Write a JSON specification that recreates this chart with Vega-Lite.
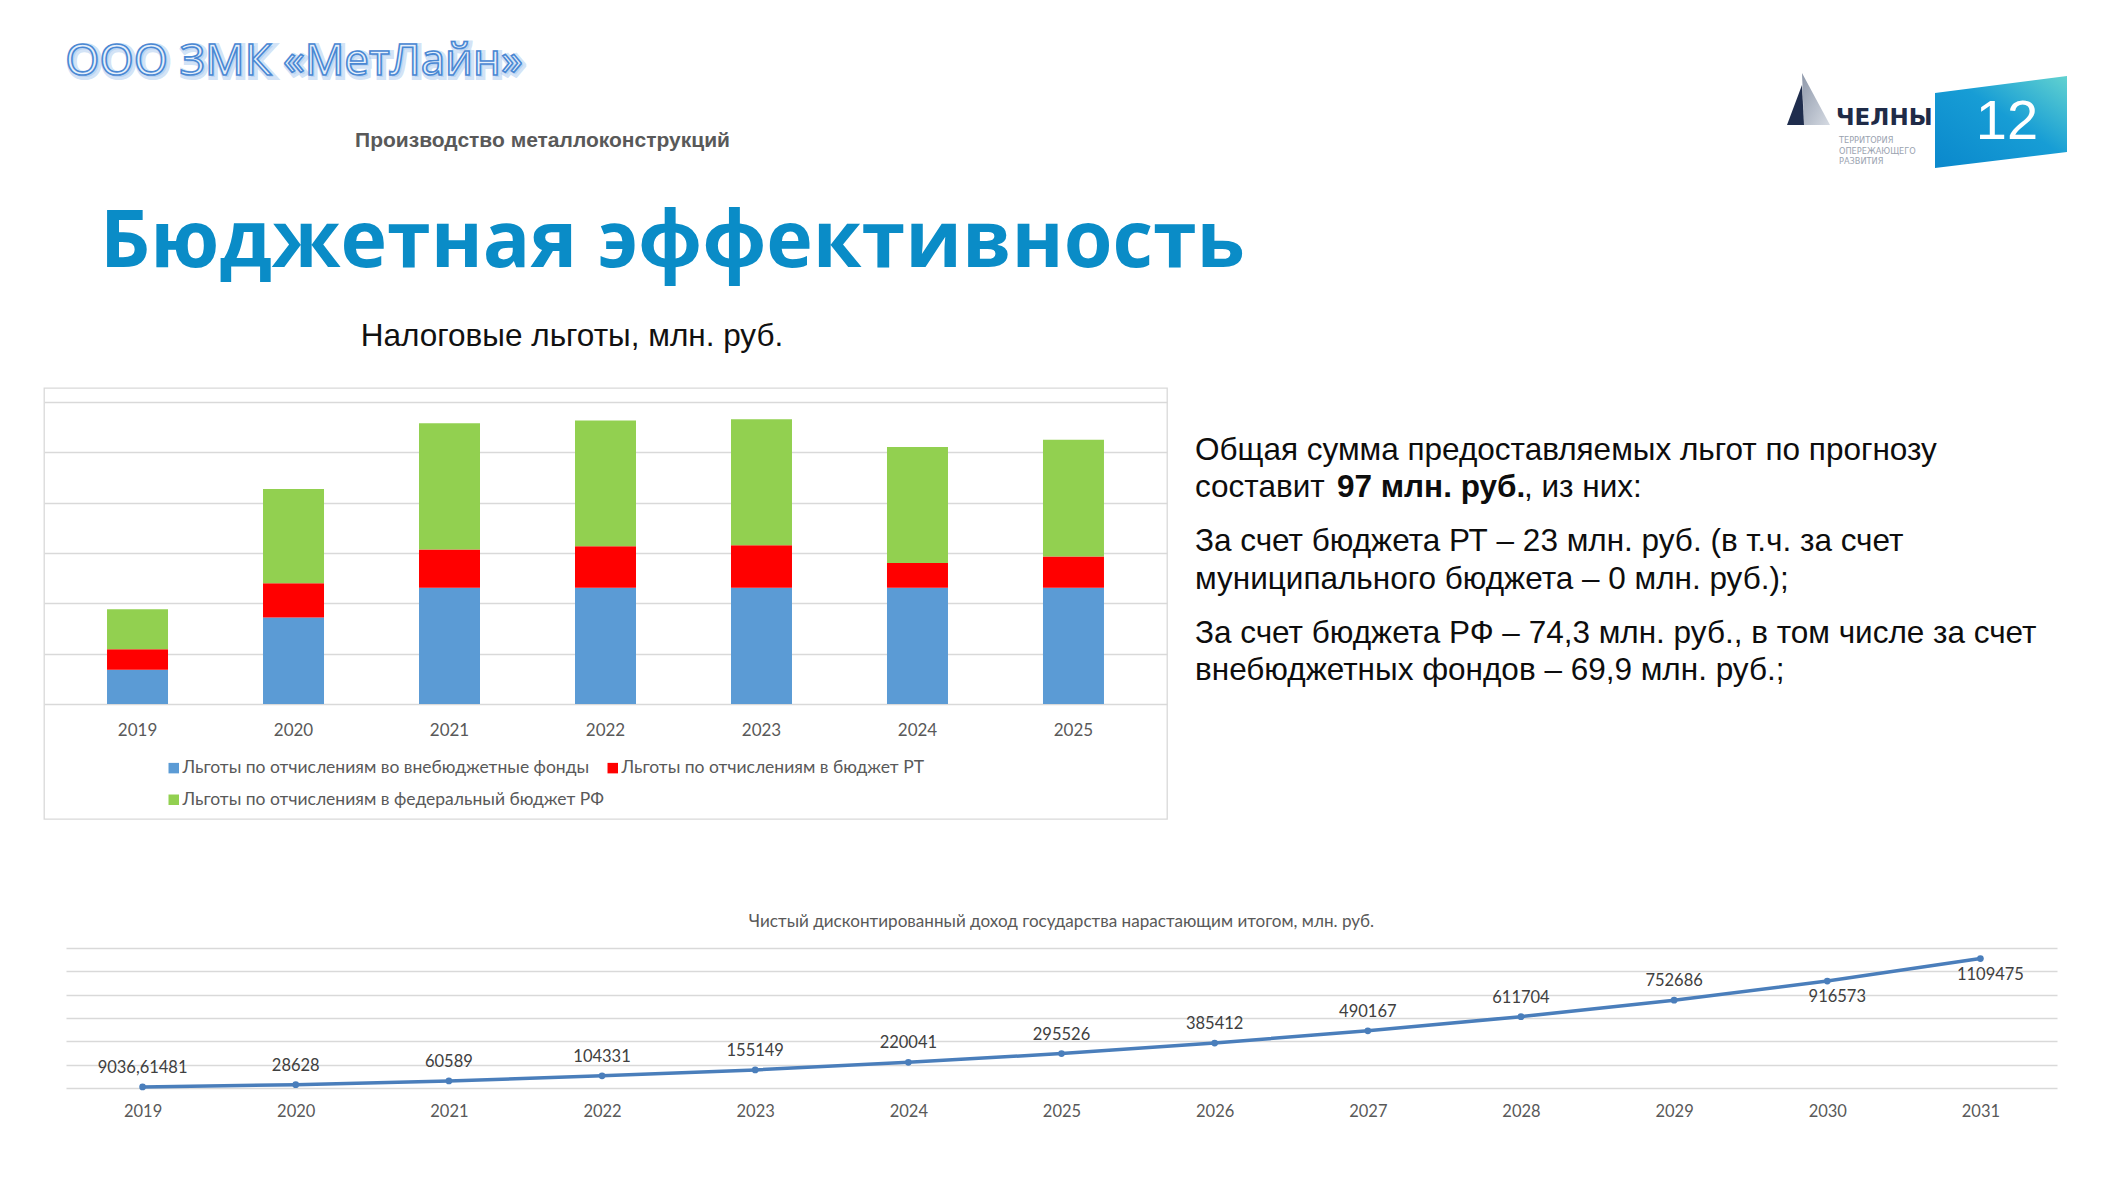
{
  "$schema": "https://vega.github.io/schema/vega-lite/v6.json",
  "background": "white",
  "padding": {"left": 43, "top": 0, "right": 0, "bottom": 0},
  "config": {
    "view": {"stroke": null},
    "font": "Lato",
    "concat": {"spacing": 0},
    "locale": {"number": {"decimal": ",", "thousands": " ", "grouping": [3], "currency": ["", ""]}}
  },
  "spacing": 0,
  "vconcat": [
    {
      "spacing": 476,
      "hconcat": [
        {
          "spacing": 0,
          "vconcat": [
            {
              "width": 500, "height": 100,
              "data": {"values": [{"t": "ООО ЗМК «МетЛайн»"}]},
              "encoding": {"text": {"field": "t"}},
              "layer": [
                {"mark": {"type": "text", "font": "Open Sans", "fontSize": 44, "align": "center", "baseline": "middle", "dy": 14, "dx": 2, "fill": "#a9c9ef", "fillOpacity": 0.5, "stroke": "#9cc0ec", "strokeWidth": 6, "strokeOpacity": 0.45}},
                {"mark": {"type": "text", "font": "Open Sans", "fontSize": 44, "align": "center", "baseline": "middle", "dy": 12, "fill": "#e6f0fb", "stroke": "#4a88d3", "strokeWidth": 1.6}}
              ]
            },
            {
              "width": 997, "height": 75,
              "data": {"values": [{"t": "Производство металлоконструкций"}]},
              "mark": {"type": "text", "font": "Liberation Sans", "fontSize": 21, "fontWeight": "bold", "fill": "#595959", "align": "center", "baseline": "middle", "dy": 3.5},
              "encoding": {"text": {"field": "t"}}
            },
            {
              "width": 1257, "height": 125,
              "data": {"values": [{"t": "Бюджетная эффективность"}]},
              "mark": {"type": "text", "font": "Open Sans", "fontSize": 78.8, "fontWeight": "bold", "fill": "#0a8cc7", "align": "center", "baseline": "alphabetic", "dy": 29.5},
              "encoding": {"text": {"field": "t"}}
            },
            {
              "width": 1056, "height": 87,
              "data": {"values": [{"t": "Налоговые льготы, млн. руб."}]},
              "mark": {"type": "text", "font": "Liberation Sans", "fontSize": 31.5, "fill": "#111111", "align": "center", "baseline": "alphabetic", "dy": 2.5},
              "encoding": {"text": {"field": "t"}}
            }
          ]
        },
        {
          "width": 300, "height": 244,
          "data": {"values": [{"a": 1}]},
          "layer": [
            {"mark": {"type": "point", "shape": "M0.08,-0.29L1.40,-0.46L1.40,0.30L0.08,0.46Z", "size": 40000, "filled": true, "opacity": 1, "strokeWidth": 0,
              "fill": {"gradient": "linear", "x1": 0, "y1": 1, "x2": 1, "y2": 0, "stops": [{"offset": 0, "color": "#0a88cc"}, {"offset": 0.55, "color": "#179dd5"}, {"offset": 1, "color": "#62d2d0"}]}}},
            {"mark": {"type": "point", "shape": "M-1.25,-0.49L-1.23,0.03L-0.97,0.03Z", "size": 40000, "filled": true, "opacity": 1, "strokeWidth": 0,
              "fill": {"gradient": "linear", "x1": 0, "y1": 0, "x2": 1, "y2": 1, "stops": [{"offset": 0, "color": "#8e98aa"}, {"offset": 1, "color": "#d6dbe3"}]}}},
            {"mark": {"type": "point", "shape": "M-1.25,-0.37L-1.40,0.03L-1.23,0.03Z", "size": 40000, "filled": true, "opacity": 1, "strokeWidth": 0, "fill": "#1f2d4d"}},
            {"mark": {"type": "text", "text": "ЧЕЛНЫ", "font": "DejaVu Sans", "fontSize": 23, "fontWeight": "bold", "fill": "#1f2b47", "align": "left", "baseline": "alphabetic", "dx": -91, "dy": 3}},
            {"mark": {"type": "text", "text": ["ТЕРРИТОРИЯ", "ОПЕРЕЖАЮЩЕГО", "РАЗВИТИЯ"], "font": "DejaVu Sans", "fontSize": 8.2, "lineHeight": 10.5, "fill": "#9aa3b0", "align": "left", "baseline": "alphabetic", "dx": -88, "dy": 21}},
            {"mark": {"type": "text", "text": "12", "font": "Liberation Sans", "fontSize": 56, "fill": "white", "align": "center", "baseline": "alphabetic", "dx": 80, "dy": 17}}
          ]
        }
      ]
    },
    {
      "spacing": 27,
      "hconcat": [
        {
          "width": 1123, "height": 431,
          "view": {"stroke": "#d9d9d9", "strokeWidth": 1.3},
          "data": {"values": [
            {"year": "2019", "s": "Льготы по отчислениям во внебюджетные фонды", "i": 1, "v": 3.4},
            {"year": "2019", "s": "Льготы по отчислениям в бюджет РТ", "i": 2, "v": 2.05},
            {"year": "2019", "s": "Льготы по отчислениям в федеральный бюджет РФ", "i": 3, "v": 3.98},
            {"year": "2020", "s": "Льготы по отчислениям во внебюджетные фонды", "i": 1, "v": 8.6},
            {"year": "2020", "s": "Льготы по отчислениям в бюджет РТ", "i": 2, "v": 3.4},
            {"year": "2020", "s": "Льготы по отчислениям в федеральный бюджет РФ", "i": 3, "v": 9.35},
            {"year": "2021", "s": "Льготы по отчислениям во внебюджетные фонды", "i": 1, "v": 11.55},
            {"year": "2021", "s": "Льготы по отчислениям в бюджет РТ", "i": 2, "v": 3.8},
            {"year": "2021", "s": "Льготы по отчислениям в федеральный бюджет РФ", "i": 3, "v": 12.53},
            {"year": "2022", "s": "Льготы по отчислениям во внебюджетные фонды", "i": 1, "v": 11.55},
            {"year": "2022", "s": "Льготы по отчислениям в бюджет РТ", "i": 2, "v": 4.12},
            {"year": "2022", "s": "Льготы по отчислениям в федеральный бюджет РФ", "i": 3, "v": 12.5},
            {"year": "2023", "s": "Льготы по отчислениям во внебюджетные фонды", "i": 1, "v": 11.55},
            {"year": "2023", "s": "Льготы по отчислениям в бюджет РТ", "i": 2, "v": 4.23},
            {"year": "2023", "s": "Льготы по отчислениям в федеральный бюджет РФ", "i": 3, "v": 12.5},
            {"year": "2024", "s": "Льготы по отчислениям во внебюджетные фонды", "i": 1, "v": 11.55},
            {"year": "2024", "s": "Льготы по отчислениям в бюджет РТ", "i": 2, "v": 2.45},
            {"year": "2024", "s": "Льготы по отчислениям в федеральный бюджет РФ", "i": 3, "v": 11.53},
            {"year": "2025", "s": "Льготы по отчислениям во внебюджетные фонды", "i": 1, "v": 11.55},
            {"year": "2025", "s": "Льготы по отчислениям в бюджет РТ", "i": 2, "v": 3.1},
            {"year": "2025", "s": "Льготы по отчислениям в федеральный бюджет РФ", "i": 3, "v": 11.6}
          ]},
          "mark": {"type": "bar", "strokeWidth": 0},
          "encoding": {
            "x": {"field": "year", "type": "ordinal", "scale": {"paddingInner": 0.609, "paddingOuter": 0.404},
              "axis": {"orient": "bottom", "offset": -89, "labelAngle": 0, "ticks": false, "tickSize": 0, "domain": false, "grid": false, "labelPadding": 0, "labelBaseline": "middle", "labelFont": "Lato", "labelFontSize": 17, "labelColor": "#595959", "title": null}},
            "y": {"field": "v", "type": "quantitative", "stack": "zero", "scale": {"domain": [-11.41, 31.39], "zero": false, "nice": false},
              "axis": {"values": [0, 5, 10, 15, 20, 25, 30], "grid": true, "gridColor": "#d9d9d9", "gridWidth": 1.3, "labels": false, "ticks": false, "domain": false, "title": null}},
            "color": {"field": "s", "type": "nominal",
              "scale": {"domain": ["Льготы по отчислениям во внебюджетные фонды", "Льготы по отчислениям в бюджет РТ", "Льготы по отчислениям в федеральный бюджет РФ"], "range": ["#5b9bd5", "#ff0000", "#92d050"]},
              "legend": {"orient": "none", "legendX": 121, "legendY": 759, "direction": "horizontal", "columns": 2, "title": null, "padding": 0, "offset": 0,
                "symbolType": "square", "symbolSize": 110, "symbolStrokeWidth": 0, "labelOffset": 0, "labelFont": "Lato", "labelFontSize": 17.5, "labelColor": "#595959", "labelLimit": 800, "rowPadding": 13, "columnPadding": 0}},
            "order": {"field": "i", "type": "quantitative"}
          }
        },
        {
          "width": 900, "height": 431,
          "data": {"values": [
            {"p": 1, "seg": "a", "t": ["Общая сумма предоставляемых льгот по прогнозу", "составит"]},
            {"p": 1, "seg": "b", "t": "97 млн. руб."},
            {"p": 1, "seg": "c", "t": ", из них:"},
            {"p": 2, "seg": "a", "t": ["За счет бюджета РТ – 23 млн. руб. (в т.ч.  за счет", "муниципального бюджета – 0  млн. руб.);"]},
            {"p": 3, "seg": "a", "t": ["За счет бюджета РФ – 74,3 млн. руб., в том числе за счет", "внебюджетных фондов – 69,9 млн. руб.;"]}
          ]},
          "encoding": {
            "y": {"field": "p", "type": "ordinal", "scale": {"type": "band", "paddingInner": 0, "paddingOuter": 0.855, "align": 0.2284}, "axis": null},
            "x": {"datum": 0, "type": "quantitative", "scale": {"domain": [0, 1]}, "axis": null},
            "text": {"field": "t"}
          },
          "layer": [
            {"transform": [{"filter": "datum.seg == 'a'"}], "mark": {"type": "text", "font": "Liberation Sans", "fontSize": 31.5, "lineHeight": 37.5, "fill": "#0d0d0d", "align": "left", "baseline": "middle", "dy": -18.75}},
            {"transform": [{"filter": "datum.seg == 'b'"}], "mark": {"type": "text", "font": "Liberation Sans", "fontSize": 31.5, "fontWeight": "bold", "fill": "#0d0d0d", "align": "left", "baseline": "middle", "dx": 142, "dy": 18.75}},
            {"transform": [{"filter": "datum.seg == 'c'"}], "mark": {"type": "text", "font": "Liberation Sans", "fontSize": 31.5, "fill": "#0d0d0d", "align": "left", "baseline": "middle", "dx": 329, "dy": 18.75}}
          ]
        }
      ]
    },
    {
      "width": 2035, "height": 128,
      "data": {"values": [{"t": "Чистый дисконтированный доход государства нарастающим итогом, млн. руб."}]},
      "mark": {"type": "text", "font": "Lato", "fontSize": 17.1, "fill": "#595959", "align": "center", "baseline": "middle", "dy": 38},
      "encoding": {"text": {"field": "t"}}
    },
    {
      "spacing": 0,
      "hconcat": [
        {
          "width": 22, "height": 140,
          "data": {"values": [{"t": ""}]},
          "mark": {"type": "text"},
          "encoding": {"text": {"field": "t"}}
        },
        {
          "width": 1991, "height": 140,
          "data": {"values": [
            {"year": 2019, "v": 9036.61481},
            {"year": 2020, "v": 28628},
            {"year": 2021, "v": 60589},
            {"year": 2022, "v": 104331},
            {"year": 2023, "v": 155149},
            {"year": 2024, "v": 220041},
            {"year": 2025, "v": 295526},
            {"year": 2026, "v": 385412},
            {"year": 2027, "v": 490167},
            {"year": 2028, "v": 611704},
            {"year": 2029, "v": 752686},
            {"year": 2030, "v": 916573},
            {"year": 2031, "v": 1109475}
          ]},
          "encoding": {
            "x": {"field": "year", "type": "ordinal", "scale": {"type": "point", "padding": 0.5},
              "axis": {"labelAngle": 0, "ticks": false, "tickSize": 0, "domain": false, "labelPadding": 23, "labelBaseline": "middle", "labelFont": "Lato", "labelFontSize": 16.5, "labelColor": "#595959", "title": null}},
            "y": {"field": "v", "type": "quantitative", "scale": {"domain": [0, 1200000], "nice": false},
              "axis": {"values": [0, 200000, 400000, 600000, 800000, 1000000, 1200000], "grid": true, "gridColor": "#d9d9d9", "gridWidth": 1.3, "labels": false, "ticks": false, "domain": false, "title": null}}
          },
          "layer": [
            {"mark": {"type": "line", "color": "#4a7ebb", "strokeWidth": 3.5}},
            {"mark": {"type": "point", "shape": "circle", "filled": true, "opacity": 1, "color": "#4a7ebb", "size": 45}},
            {"transform": [{"filter": "datum.year < 2030"}],
              "mark": {"type": "text", "font": "Lato", "fontSize": 16.5, "fill": "#404040", "align": "center", "baseline": "middle", "dy": -19},
              "encoding": {"text": {"field": "v", "type": "quantitative", "format": "~f"}}},
            {"transform": [{"filter": "datum.year >= 2030"}],
              "mark": {"type": "text", "font": "Lato", "fontSize": 16.5, "fill": "#404040", "align": "center", "baseline": "middle", "dy": 16, "dx": 10},
              "encoding": {"text": {"field": "v", "type": "quantitative", "format": "~f"}}}
          ]
        }
      ]
    }
  ]
}
